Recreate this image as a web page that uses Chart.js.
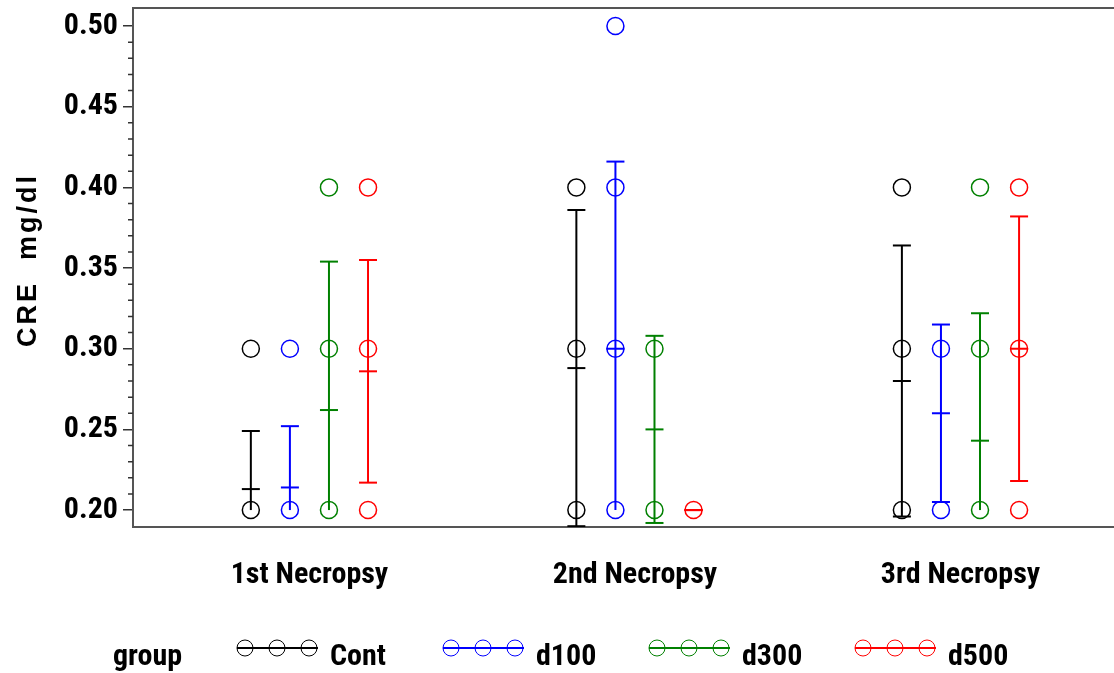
<!DOCTYPE html>
<html>
<head>
<meta charset="utf-8">
<title>CRE by necropsy</title>
<script src="https://cdn.jsdelivr.net/npm/chart.js@4.4.0/dist/chart.umd.min.js"></script>
<style>
  html, body { margin: 0; padding: 0; background: #fff; overflow: hidden; }
  #wrap { width: 1114px; height: 673px; position: relative; }
</style>
</head>
<body>
<div id="wrap"><canvas id="cre"></canvas></div>
<script>
// ── Data ──────────────────────────────────────────────────────────────────────
const visits = ['1st Necropsy', '2nd Necropsy', '3rd Necropsy'];
const groups = ['Cont', 'd100', 'd300', 'd500'];
const groupColors = ['#000000', '#0000ff', '#008000', '#ff0000'];

// observed CRE (mg/dl) per necropsy
const contObs = [[0.20, 0.30], [0.20, 0.30, 0.40], [0.20, 0.30, 0.40]];
const d100Obs = [[0.20, 0.30], [0.20, 0.30, 0.40, 0.50], [0.20, 0.30]];
const d300Obs = [[0.20, 0.30, 0.40], [0.20, 0.30], [0.20, 0.30, 0.40]];
const d500Obs = [[0.20, 0.30, 0.40], [0.20], [0.20, 0.30, 0.40]];

// group mean and SD per necropsy
const contMean = [0.213, 0.288, 0.280];
const contSd   = [0.036, 0.098, 0.084];
const d100Mean = [0.214, 0.300, 0.260];
const d100Sd   = [0.038, 0.116, 0.055];
const d300Mean = [0.262, 0.250, 0.243];
const d300Sd   = [0.092, 0.058, 0.079];
const d500Mean = [0.286, 0.200, 0.300];
const d500Sd   = [0.069, 0.000, 0.082];

const yTicks = [0.20, 0.25, 0.30, 0.35, 0.40, 0.45, 0.50];

// ── Setup ─────────────────────────────────────────────────────────────────────
const OBS  = [contObs, d100Obs, d300Obs, d500Obs];
const MEAN = [contMean, d100Mean, d300Mean, d500Mean];
const SD   = [contSd, d100Sd, d300Sd, d500Sd];

const Y_MIN = 0.1895, Y_MAX = 0.5112;
const X_MIN = 0.458,  X_MAX = 3.4716;
const GROUP_STEP = 0.12;
const floorVal = Math.min(...OBS.flat(2));

const COND = "'Roboto Condensed', 'DejaVu Sans Condensed', sans-serif";
const FRAME = '#555';

function xPos(vi, gi) { return vi + 1 + (gi - 1.5) * GROUP_STEP; }

const datasets = [];
groups.forEach((g, gi) => {
  const color = groupColors[gi];
  datasets.push({
    type: 'scatter',
    label: g,
    data: OBS[gi].flatMap((vals, vi) => vals.map(v => ({ x: xPos(vi, gi), y: v }))),
    pointStyle: 'circle',
    pointRadius: 8.5,
    pointHoverRadius: 8.5,
    pointBorderWidth: 1.5,
    borderColor: color,
    backgroundColor: 'rgba(0,0,0,0)',
  });
  visits.forEach((_, vi) => {
    const m = MEAN[gi][vi], s = SD[gi][vi];
    const lo = m - s, hi = m + s;
    const clipped = lo < Y_MIN;
    const x = xPos(vi, gi);
    // mean ± SD bar: lower cap, mean tick, upper cap
    datasets.push({
      type: 'line',
      label: g + ' ' + visits[vi],
      data: [{ x, y: clipped ? floorVal : lo }, { x, y: m }, { x, y: hi }],
      borderColor: color,
      borderWidth: 2,
      pointStyle: 'line',
      pointRadius: [clipped ? 0 : 9, 9, 9],
      pointHoverRadius: [clipped ? 0 : 9, 9, 9],
      pointBorderWidth: 2,
      pointBorderColor: color,
      fill: false,
    });
  });
});

// ── Frame, minor ticks, axis title and legend ────────────────────────────────
const decor = {
  id: 'decor',
  afterDraw(chart) {
    const { ctx, chartArea: a, scales: { y } } = chart;
    ctx.save();

    ctx.strokeStyle = FRAME;
    ctx.lineWidth = 2;
    ctx.beginPath();
    ctx.moveTo(a.left, a.top);
    ctx.lineTo(a.right, a.top);
    ctx.stroke();

    // minor ticks every 0.01
    ctx.strokeStyle = '#333';
    ctx.lineWidth = 1.5;
    ctx.beginPath();
    for (let i = 20; i <= 50; i++) {
      if (i % 5 === 0) continue;
      const py = y.getPixelForValue(i / 100);
      ctx.moveTo(a.left - 5, py);
      ctx.lineTo(a.left, py);
    }
    ctx.stroke();

    // y title
    ctx.save();
    ctx.translate(36, 260);
    ctx.rotate(-Math.PI / 2);
    ctx.font = "bold 27px 'Liberation Sans', Arial, sans-serif";
    ctx.letterSpacing = '3px';
    ctx.fillStyle = '#000';
    ctx.textAlign = 'center';
    ctx.textBaseline = 'alphabetic';
    ctx.fillText('CRE  mg/dl', 0, 0);
    ctx.restore();

    // legend
    ctx.font = 'bold 30px ' + COND;
    ctx.fillStyle = '#000';
    ctx.textBaseline = 'alphabetic';
    ctx.textAlign = 'left';
    ctx.fillText('group', 113, 665);
    groups.forEach((g, gi) => {
      const sx = 237 + gi * 206;
      const ly = 648;
      ctx.strokeStyle = groupColors[gi];
      ctx.lineWidth = 2;
      ctx.beginPath();
      ctx.moveTo(sx, ly);
      ctx.lineTo(sx + 81, ly);
      ctx.stroke();
      ctx.lineWidth = 1;
      [8, 40, 72].forEach(dx => {
        ctx.beginPath();
        ctx.arc(sx + dx, ly, 8, 0, Math.PI * 2);
        ctx.stroke();
      });
      ctx.fillStyle = '#000';
      ctx.fillText(g, sx + 93, 665);
    });

    ctx.restore();
  }
};

new Chart(document.getElementById('cre'), {
  data: { datasets },
  plugins: [decor],
  options: {
    responsive: true,
    maintainAspectRatio: false,
    animation: false,
    devicePixelRatio: 1,
    layout: { autoPadding: false, padding: { top: 8, right: 0, bottom: 0, left: 0 } },
    plugins: {
      legend: { display: false },
      tooltip: { enabled: false },
    },
    scales: {
      x: {
        type: 'linear',
        min: X_MIN,
        max: X_MAX,
        afterBuildTicks: s => { s.ticks = visits.map((_, i) => ({ value: i + 1 })); },
        afterFit: s => { s.height = 146; s.paddingLeft = 0; s.paddingRight = 0; },
        ticks: {
          color: '#000',
          padding: 22,
          maxRotation: 0,
          autoSkip: false,
          font: { family: COND, size: 30, weight: 'bold' },
          callback: v => visits[Math.round(v) - 1] || '',
        },
        grid: { display: false },
        border: { display: true, color: FRAME, width: 2 },
      },
      y: {
        min: Y_MIN,
        max: Y_MAX,
        afterBuildTicks: s => { s.ticks = yTicks.map(v => ({ value: v })); },
        afterFit: s => { s.width = 133; s.paddingTop = 0; s.paddingBottom = 0; },
        ticks: {
          color: '#000',
          padding: 5,
          autoSkip: false,
          font: { family: COND, size: 30, weight: 'bold' },
          callback: v => Number(v).toFixed(2),
        },
        grid: {
          display: true,
          drawOnChartArea: false,
          drawTicks: true,
          tickLength: 10,
          color: '#333',
          lineWidth: 1.5,
        },
        border: { display: true, color: FRAME, width: 2 },
      },
    },
  },
});
</script>
</body>
</html>
